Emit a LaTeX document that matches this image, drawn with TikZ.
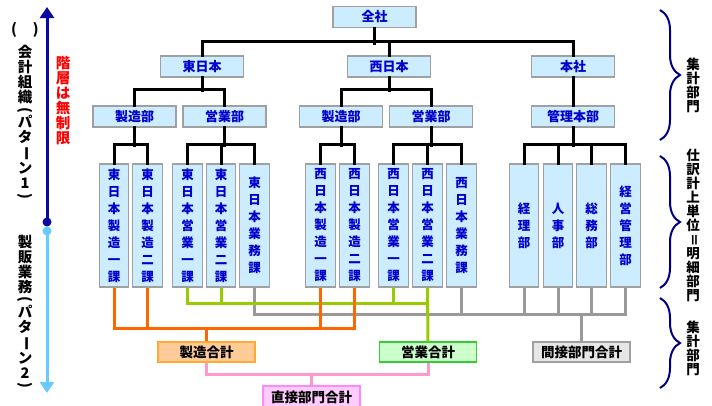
\documentclass[tikz,border=0pt]{standalone}
\usepackage{fontspec}
\usepackage{graphicx}
\newfontfamily\jp{Noto Sans CJK JP}
\usetikzlibrary{arrows.meta,decorations.pathreplacing}
\definecolor{boxfill}{HTML}{CCECFF}
\definecolor{boxdraw}{HTML}{A0A0A0}
\definecolor{txtblue}{HTML}{0000CC}
\definecolor{lorange}{HTML}{FF6600}
\definecolor{lgreen}{HTML}{99CC00}
\definecolor{lgray}{HTML}{999999}
\definecolor{lpink}{HTML}{FF99CC}
\definecolor{orfill}{HTML}{FFCC99}
\definecolor{ordraw}{HTML}{FFAA33}
\definecolor{grfill}{HTML}{CCFFCC}
\definecolor{grdraw}{HTML}{33CC33}
\definecolor{gyfill}{HTML}{E6E6E6}
\definecolor{pkfill}{HTML}{FFCCFF}
\definecolor{pkdraw}{HTML}{FF88FF}
\definecolor{darrow}{HTML}{0A0AA0}
\definecolor{larrow}{HTML}{66CCFF}
\definecolor{bracecol}{HTML}{000080}
\newcommand\vrot[1]{\rotatebox[origin=c]{-90}{#1}}
\begin{document}
\begin{tikzpicture}[x=1pt,y=-1pt,
  hbox/.style={draw=boxdraw, fill=boxfill, line width=1.2pt, minimum width=83pt, minimum height=21pt, inner sep=0pt, text=txtblue, font=\jp\bfseries\fontsize{13}{13}\selectfont},
  vbox/.style={draw=boxdraw, fill=boxfill, line width=1.2pt, minimum width=29.5pt, minimum height=123pt, inner sep=0pt, text=txtblue, align=center, font=\jp\bfseries\fontsize{12.5}{17}\selectfont},
  sumbox/.style={line width=1.2pt, minimum width=97pt, minimum height=20pt, inner sep=0pt, font=\jp\bfseries\fontsize{13.5}{13.5}\selectfont},
  tree/.style={line width=3pt, line cap=rect},
  orl/.style={line width=3pt, draw=lorange},
  grl/.style={line width=3pt, draw=lgreen},
  gyl/.style={line width=3pt, draw=lgray},
  pkl/.style={line width=3pt, draw=lpink},
  sidetxt/.style={align=center, inner sep=0pt, font=\jp\bfseries\fontsize{13.5}{14}\selectfont},
  lefttxt/.style={align=center, inner sep=0pt, font=\jp\bfseries\fontsize{14.5}{15}\selectfont},
  bracest/.style={decorate, decoration={brace, amplitude=20pt}, draw=bracecol, line width=2pt}
]
\useasboundingbox (0,0) rectangle (712,405);

% level 1-3
\node[hbox] (zensha) at (374.5,17) {全社};
\node[hbox] (higashi) at (202,66.5) {東日本};
\node[hbox] (nishi) at (389,66.5) {西日本};
\node[hbox] (honsha) at (573,66.5) {本社};
\node[hbox] (seizoE) at (134.5,116.5) {製造部};
\node[hbox] (eigyoE) at (224.5,116.5) {営業部};
\node[hbox] (seizoW) at (341,116.5) {製造部};
\node[hbox] (eigyoW) at (431,116.5) {営業部};
\node[hbox] (kanri) at (573,116.5) {管理本部};

% level 4
\node[vbox] (e1) at (114,225.5) {東\\日\\本\\製\\造\\一\\課};
\node[vbox] (e2) at (147.5,225.5) {東\\日\\本\\製\\造\\二\\課};
\node[vbox] (e3) at (187.5,225.5) {東\\日\\本\\営\\業\\一\\課};
\node[vbox] (e4) at (221,225.5) {東\\日\\本\\営\\業\\二\\課};
\node[vbox] (e5) at (254.5,225.5) {東\\日\\本\\業\\務\\課};
\node[vbox] (w1) at (320.5,225.5) {西\\日\\本\\製\\造\\一\\課};
\node[vbox] (w2) at (354.5,225.5) {西\\日\\本\\製\\造\\二\\課};
\node[vbox] (w3) at (393.5,225.5) {西\\日\\本\\営\\業\\一\\課};
\node[vbox] (w4) at (427.5,225.5) {西\\日\\本\\営\\業\\二\\課};
\node[vbox] (w5) at (461.5,225.5) {西\\日\\本\\業\\務\\課};
\node[vbox] (k1) at (524,225.5) {経\\理\\部};
\node[vbox] (k2) at (558,225.5) {人\\事\\部};
\node[vbox] (k3) at (591.5,225.5) {総\\務\\部};
\node[vbox] (k4) at (625.5,225.5) {経\\営\\管\\理\\部};

% totals
\node[sumbox, draw=ordraw, fill=orfill] (seizoT) at (206.5,352) {製造合計};
\node[sumbox, draw=grdraw, fill=grfill] (eigyoT) at (428,352) {営業合計};
\node[sumbox, draw=boxdraw, fill=gyfill] (kansetsuT) at (581.5,352) {間接部門合計};
\node[sumbox, draw=pkdraw, fill=pkfill, minimum height=22pt] (chokuT) at (311.5,397) {直接部門合計};

% tree connectors
\draw[tree] (zensha.south) -- ++(0,15);
\draw[tree] (higashi.north) -- ++(0,-14) -| (honsha.north);
\draw[tree] (nishi.north) -- ++(0,-14);
\draw[tree] (higashi.south) -- ++(0,13);
\draw[tree] (seizoE.north) -- ++(0,-16) -| (eigyoE.north);
\draw[tree] (nishi.south) -- ++(0,13);
\draw[tree] (seizoW.north) -- ++(0,-16) -| (eigyoW.north);
\draw[tree] (honsha.south) -- (kanri.north);
\draw[tree] (seizoE.south) -- ++(0,18);
\draw[tree] (e1.north) -- ++(0,-19) -| (e2.north);
\draw[tree] (eigyoE.south) -- ++(0,18);
\draw[tree] (e3.north) -- ++(0,-19) -| (e5.north);
\draw[tree] (e4.north) -- ++(0,-19);
\draw[tree] (seizoW.south) -- ++(0,18);
\draw[tree] (w1.north) -- ++(0,-19) -| (w2.north);
\draw[tree] (eigyoW.south) -- ++(0,18);
\draw[tree] (w3.north) -- ++(0,-19) -| (w5.north);
\draw[tree] (w4.north) -- ++(0,-19);
\draw[tree] (kanri.south) -- ++(0,18);
\draw[tree] (k1.north) -- ++(0,-19) -| (k4.north);
\draw[tree] (k2.north) -- ++(0,-19);
\draw[tree] (k3.north) -- ++(0,-19);

% gray
\draw[gyl] (e5.south) -- ++(0,27) -| (k4.south);
\draw[gyl] (w5.south) -- ++(0,27);
\draw[gyl] (k1.south) -- ++(0,27);
\draw[gyl] (k2.south) -- ++(0,27);
\draw[gyl] (k3.south) -- ++(0,27);
\draw[gyl] (kansetsuT.north) -- ++(0,-28);
% green
\draw[grl] (e3.south) -- ++(0,16) -| (w4.south);
\draw[grl] (e4.south) -- ++(0,16);
\draw[grl] (w3.south) -- ++(0,16);
\draw[grl] (w4.south) -- (eigyoT.north);
% orange
\draw[orl] (e1.south) -- ++(0,41) -| (w2.south);
\draw[orl] (e2.south) -- ++(0,41);
\draw[orl] (w1.south) -- ++(0,41);
\draw[orl] (seizoT.north) -- ++(0,-14);
% pink
\draw[pkl] (seizoT.south) -- ++(0,12) -| (eigyoT.south);
\draw[pkl] (chokuT.north) -- ++(0,-12);

% left side
\coordinate (a1s) at (47,222);
\coordinate (a1e) at (47,7);
\coordinate (a2s) at (47,231);
\coordinate (a2e) at (47,393);
\draw[darrow, line width=3pt, -{Triangle[width=14pt,length=11pt]}] (a1s) -- (a1e);
\fill[darrow] (a1s) circle (4.5pt);
\draw[larrow, line width=3pt, -{Triangle[width=14pt,length=11pt]}] (a2s) -- (a2e);
\fill[larrow] (a2s) circle (4.5pt);

\node[lefttxt] (paren) at (25,30) {(\hspace{16pt})};
\node[lefttxt] (pat1) at (25,123) {会\\計\\組\\織\\[-3pt]\vrot{(}\\[-2pt]パ\\タ\\\vrot{ー}\\ン\\1\\[-3pt]\vrot{)}};
\node[lefttxt, text=red] (mugen) at (63,101) {階\\層\\は\\無\\制\\限};
\node[lefttxt] (pat2) at (25,312.5) {製\\販\\業\\務\\[-3pt]\vrot{(}\\[-2pt]パ\\タ\\\vrot{ー}\\ン\\2\\[-3pt]\vrot{)}};

% right side
\draw[bracest] (660,10) -- (660,140);
\draw[bracest] (660,156) -- (660,288);
\draw[bracest] (660,298) -- (660,388);
\node[sidetxt] (r1) at (693,85.5) {集\\計\\部\\門};
\node[sidetxt] (r2) at (693,225) {仕\\訳\\計\\上\\単\\位\\\vrot{＝}\\明\\細\\部\\門};
\node[sidetxt] (r3) at (693,348.5) {集\\計\\部\\門};
\end{tikzpicture}
\end{document}
